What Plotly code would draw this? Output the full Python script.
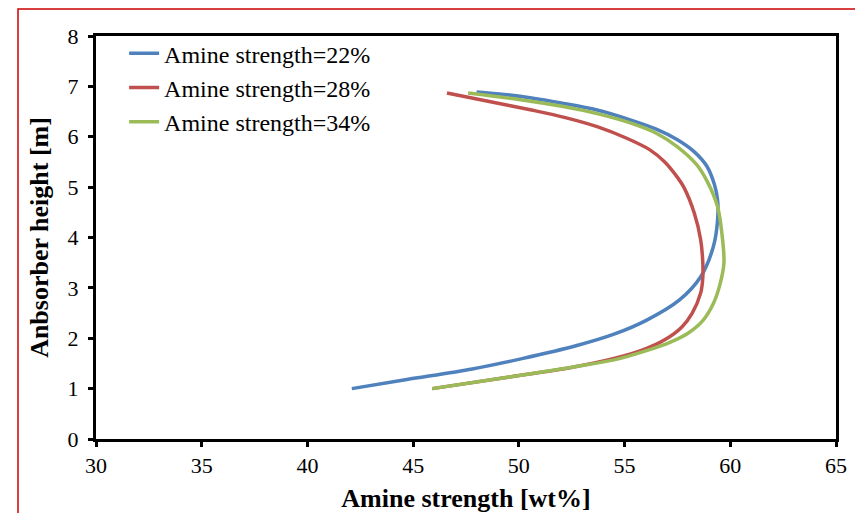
import plotly.graph_objects as go

# Amine strength profiles along the absorber height
height_22 = [1.00, 1.18, 1.39, 1.60, 1.85, 2.08, 2.36, 2.76, 3.22, 3.82, 4.35, 4.74,
             5.05, 5.41, 5.70, 5.94, 6.15, 6.33, 6.53, 6.67, 6.77, 6.84, 6.89]
strength_22 = [42.1, 44.7, 47.8, 50.2, 52.7, 54.5, 56.05, 57.6, 58.6, 59.2, 59.4, 59.4,
               59.25, 58.9, 58.3, 57.5, 56.5, 55.3, 53.7, 52.0, 50.6, 49.3, 48.0]

height_28 = [1.00, 1.22, 1.43, 1.60, 1.76, 1.97, 2.22, 2.50, 2.90, 3.20, 3.50, 3.95,
             4.48, 5.00, 5.25, 5.50, 5.74, 5.97, 6.20, 6.38, 6.53, 6.70, 6.87]
strength_28 = [45.9, 49.4, 52.6, 54.5, 55.8, 56.9, 57.7, 58.2, 58.6, 58.7, 58.7, 58.6,
               58.3, 57.8, 57.4, 56.9, 56.2, 55.1, 53.7, 52.2, 50.6, 48.6, 46.6]

height_34 = [1.00, 1.22, 1.43, 1.57, 1.75, 1.93, 2.10, 2.35, 2.69, 3.05, 3.49, 4.09,
             4.61, 5.08, 5.45, 5.80, 6.07, 6.27, 6.45, 6.60, 6.74, 6.87]
strength_34 = [45.9, 49.4, 52.6, 54.5, 56.0, 57.2, 58.0, 58.7, 59.2, 59.5, 59.7, 59.6,
               59.4, 58.95, 58.4, 57.5, 56.5, 55.3, 53.8, 52.1, 50.0, 47.6]

series = [
    ("Amine strength=22%", strength_22, height_22, "#4F81BD"),
    ("Amine strength=28%", strength_28, height_28, "#C0504D"),
    ("Amine strength=34%", strength_34, height_34, "#9BBB59"),
]

x_ticks = [30, 35, 40, 45, 50, 55, 60, 65]
y_ticks = [0, 1, 2, 3, 4, 5, 6, 7, 8]

SERIF = "Liberation Serif, Times New Roman, serif"

fig = go.Figure()
for name, xs, ys, color in series:
    fig.add_trace(go.Scatter(
        x=xs, y=ys, name=name, mode="lines",
        line=dict(color=color, width=3.5, shape="spline", smoothing=0.9),
    ))

axis_common = dict(
    showline=True, linecolor="black", linewidth=3, mirror=True,
    ticks="outside", ticklen=5, tickwidth=3, tickcolor="black",
    showgrid=False, zeroline=False, automargin=False,
    tickfont=dict(family=SERIF, size=22, color="black"),
)

fig.update_layout(
    width=855, height=513,
    margin=dict(l=96, r=19, t=36, b=74),
    paper_bgcolor="white", plot_bgcolor="white",
    xaxis=dict(range=[30, 65], tickvals=x_ticks,
               title=dict(text="<b>Amine strength [wt%]</b>", standoff=14,
                          font=dict(family=SERIF, size=26, color="black")),
               **axis_common),
    yaxis=dict(range=[0, 8], tickvals=y_ticks, ticklabelstandoff=5,
               title=dict(text="<b>Anbsorber height [m]</b>", standoff=12,
                          font=dict(family=SERIF, size=26, color="black")),
               **axis_common),
    legend=dict(x=0.038, y=1.012, xanchor="left", yanchor="top",
                bgcolor="rgba(0,0,0,0)",
                font=dict(family=SERIF, size=24, color="black"),
                itemwidth=30),
    showlegend=True,
    shapes=[dict(type="rect", xref="paper", yref="paper",
                 x0=-0.1054, x1=1.2, y0=-0.3, y1=1.067,
                 line=dict(color="#CC0000", width=1.5), layer="below")],
)

fig.write_html("out.html")
